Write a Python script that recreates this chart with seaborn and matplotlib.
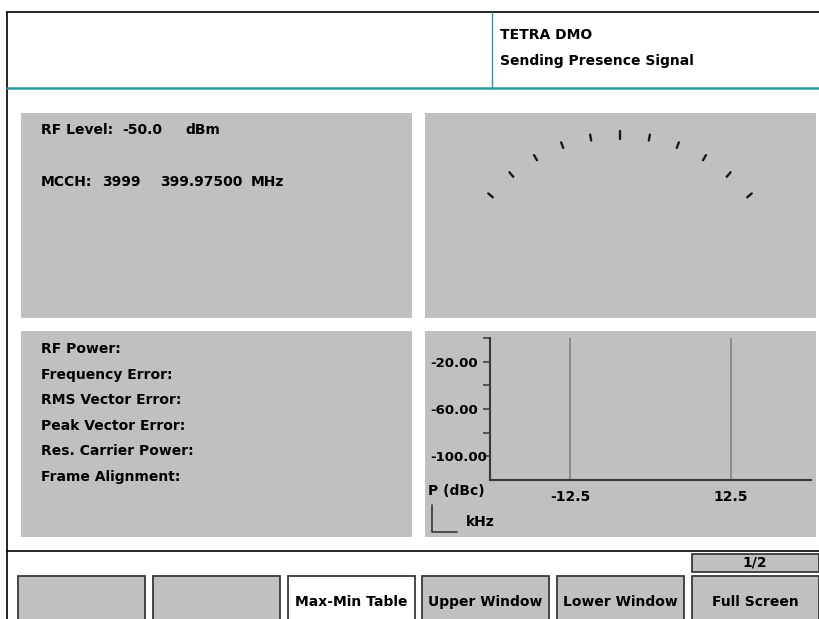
import matplotlib
matplotlib.use('Agg')
import matplotlib.pyplot as plt
from matplotlib.patches import Rectangle
import numpy as np
import pandas as pd
import seaborn as sns

# header
mode_name = 'TETRA DMO'
status_text = 'Sending Presence Signal'

# upper left readout
rf_label = 'RF Level:'
rf_level = '-50.0'
rf_unit = 'dBm'
mcch_label = 'MCCH:'
mcch_channel = '3999'
mcch_freq = '399.97500'
mcch_unit = 'MHz'

# lower left result rows
result_rows = ['RF Power:', 'Frequency Error:', 'RMS Vector Error:',
               'Peak Vector Error:', 'Res. Carrier Power:', 'Frame Alignment:']

# meter scale (degrees from vertical)
meter_angles = [-50, -40, -30, -20, -10, 0, 10, 20, 30, 40, 50]

# spectrum window
marker_khz = [-12.5, 12.5]
marker_labels = ['-12.5', '12.5']
power_ticks = [0, -20, -40, -60, -80, -100]
power_labels = ['', '-20.00', '', '-60.00', '', '-100.00']
freq_span = [-25, 25]
power_range = [-120, 0]

# softkeys
softkeys = ['', '', 'Max-Min Table', 'Upper Window', 'Lower Window', 'Full Screen']
active_key = 'Max-Min Table'
page = '1/2'

sns.set_style('white')
plt.rcParams['font.family'] = ['DejaVu Sans']
plt.rcParams['font.weight'] = 'bold'
plt.rcParams['text.color'] = 'black'

GRAY = '#c0c0c0'
DARK = '#383838'
TEAL = '#2e9a9a'
FS = 10

W, H = 820, 619
fig = plt.figure(figsize=(W / 100, H / 100), dpi=100)
fig.patch.set_facecolor('white')

base = fig.add_axes([0, 0, 1, 1])
base.set_xlim(0, W)
base.set_ylim(H, 0)
base.axis('off')

# frame lines
base.plot([7, W], [12, 12], color='black', lw=1.2)
base.plot([7, 7], [12, H], color='black', lw=1.2)
base.plot([7, W], [88, 88], color=TEAL, lw=1.8)
base.plot([492, 492], [12, 88], color=TEAL, lw=1.0)
base.plot([7, W], [551, 551], color='black', lw=1.2)

base.text(500, 35, mode_name, fontsize=FS, va='center')
base.text(500, 61, status_text, fontsize=FS, va='center')

# panels
for (x, y, w, h) in [(21, 113, 391, 205), (425, 113, 391, 205),
                     (21, 331, 391, 206), (425, 331, 391, 206)]:
    base.add_patch(Rectangle((x, y), w, h, facecolor=GRAY, edgecolor='none'))

# upper left readout
for txt, x in zip([rf_label, rf_level, rf_unit], [41, 122, 185]):
    base.text(x, 130, txt, fontsize=FS, va='center')
for txt, x in zip([mcch_label, mcch_channel, mcch_freq, mcch_unit], [41, 102, 160, 251]):
    base.text(x, 182, txt, fontsize=FS, va='center')

# lower left rows
for i, txt in enumerate(result_rows):
    base.text(41, 349 + i * 25.5, txt, fontsize=FS, va='center')

# meter
gauge = fig.add_axes([425 / W, 1 - 318 / H, 391 / W, 205 / H])
gauge.set_facecolor('none')
cx, cy = 620, 304
rows = []
for a in meter_angles:
    r0, r1 = (165, 173) if a == 0 else (166, 172)
    t = np.deg2rad(a)
    for r in (r0, r1):
        rows.append({'tick': a, 'x': cx + r * np.sin(t), 'y': cy - r * np.cos(t)})
tick_df = pd.DataFrame(rows)
sns.lineplot(data=tick_df, x='x', y='y', units='tick', estimator=None, sort=False,
             color='#1a1a1a', lw=1.7, ax=gauge)
gauge.set_xlim(425, 816)
gauge.set_ylim(318, 113)
gauge.axis('off')

# spectrum
ax = fig.add_axes([490 / W, 1 - 480 / H, (811 - 490) / W, (480 - 338) / H])
ax.set_facecolor('none')
mk = pd.DataFrame({'khz': [m for m in marker_khz for _ in range(2)],
                   'dbc': [p for _ in marker_khz for p in power_range],
                   'marker': [i for i in range(len(marker_khz)) for _ in range(2)]})
sns.lineplot(data=mk, x='khz', y='dbc', units='marker', estimator=None, sort=False,
             color='#808080', lw=1.2, ax=ax)
ax.set_xlim(freq_span)
ax.set_ylim(power_range)
ax.set_xlabel('')
ax.set_ylabel('')
for s in ['top', 'right']:
    ax.spines[s].set_visible(False)
for s in ['left', 'bottom']:
    ax.spines[s].set_color(DARK)
    ax.spines[s].set_linewidth(1.5)
ax.set_yticks(power_ticks)
ax.set_yticklabels(power_labels)
ax.set_xticks(marker_khz)
ax.set_xticklabels(marker_labels)
ax.tick_params(axis='y', direction='out', length=5, width=1.1, color=DARK,
               pad=38, labelsize=9.5, labelcolor='black', left=True)
ax.tick_params(axis='x', length=0, pad=7, labelsize=FS, labelcolor='black')
for lbl in ax.get_yticklabels():
    lbl.set_ha('left')
    lbl.set_fontweight('bold')
for lbl in ax.get_xticklabels():
    lbl.set_fontweight('bold')

base.text(428, 491, 'P (dBc)', fontsize=FS, va='center')
base.plot([432, 432, 457], [505, 532, 532], color=DARK, lw=1.2)
base.text(466, 522, 'kHz', fontsize=FS, va='center')

# softkeys
starts = [18, 153, 288, 422, 557, 692]
for x, label in zip(starts, softkeys):
    fc = 'white' if label == active_key else GRAY
    base.add_patch(Rectangle((x, 576), 127, 60, facecolor=fc, edgecolor=DARK, lw=1.3))
    base.text(x + 63.5, 602, label, fontsize=FS, ha='center', va='center')
base.add_patch(Rectangle((692, 554), 127, 18, facecolor=GRAY, edgecolor=DARK, lw=1.3))
base.text(755, 563, page, fontsize=FS, ha='center', va='center')

fig.savefig('out.png', dpi=100, facecolor='white')
